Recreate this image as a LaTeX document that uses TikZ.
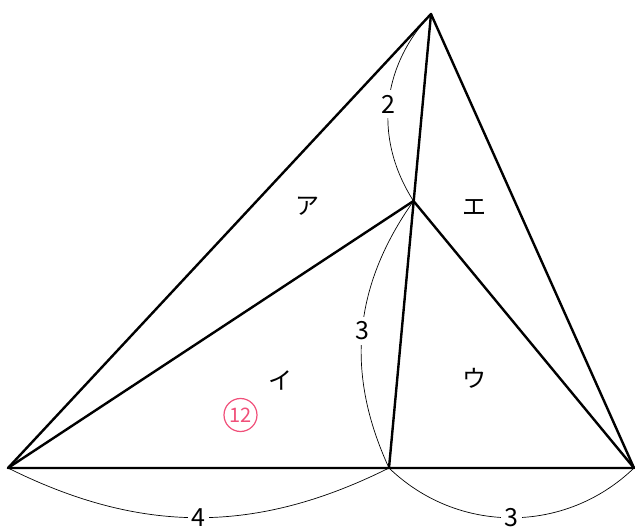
\documentclass[tikz,border=0pt]{standalone}
\usepackage{fontspec}
\setmainfont{Noto Sans CJK JP}
\definecolor{pinkc}{RGB}{240,80,122}
\tikzset{
  edge/.style={line width=2.4pt, line join=round, line cap=round},
  arcline/.style={line width=0.7pt},
  lbl/.style={fill=white, inner xsep=4pt, inner ysep=5pt, font=\fontsize{25}{25}\selectfont},
  region/.style={font=\fontsize{24}{24}\selectfont},
}
\begin{document}
\begin{tikzpicture}[x=1pt,y=1pt]
\useasboundingbox (0,0) rectangle (635,528);
\coordinate (A) at (8,60);
\coordinate (B) at (389,60);
\coordinate (C) at (634,60);
\coordinate (T) at (431,514);
\coordinate (P) at (413.5,327);
% dimension arcs
\draw[arcline] (T) to[bend right=38] node[lbl]{2} (P);
\draw[arcline] (P) to[bend right=30] node[lbl]{3} (B);
\draw[arcline] (A) to[bend right=26.5] node[lbl]{4} (B);
\draw[arcline] (B) to[bend right=44] node[lbl]{3} (C);
% main lines
\draw[edge] (A) -- (T) -- (C) -- cycle;
\draw[edge] (A) -- (P) -- (C);
\draw[edge] (T) -- (B);
% region labels
\node[region] (la) at (307,322) {ア};
\node[region] (le) at (474,321) {エ};
\node[region] (li) at (280,148) {イ};
\node[region] (lu) at (474,150) {ウ};
\node[circle, draw=pinkc, text=pinkc, line width=1.2pt, minimum size=33pt, inner sep=0pt, font=\fontsize{20}{20}\selectfont] (n12) at (240.5,113) {12};
\end{tikzpicture}
\end{document}
